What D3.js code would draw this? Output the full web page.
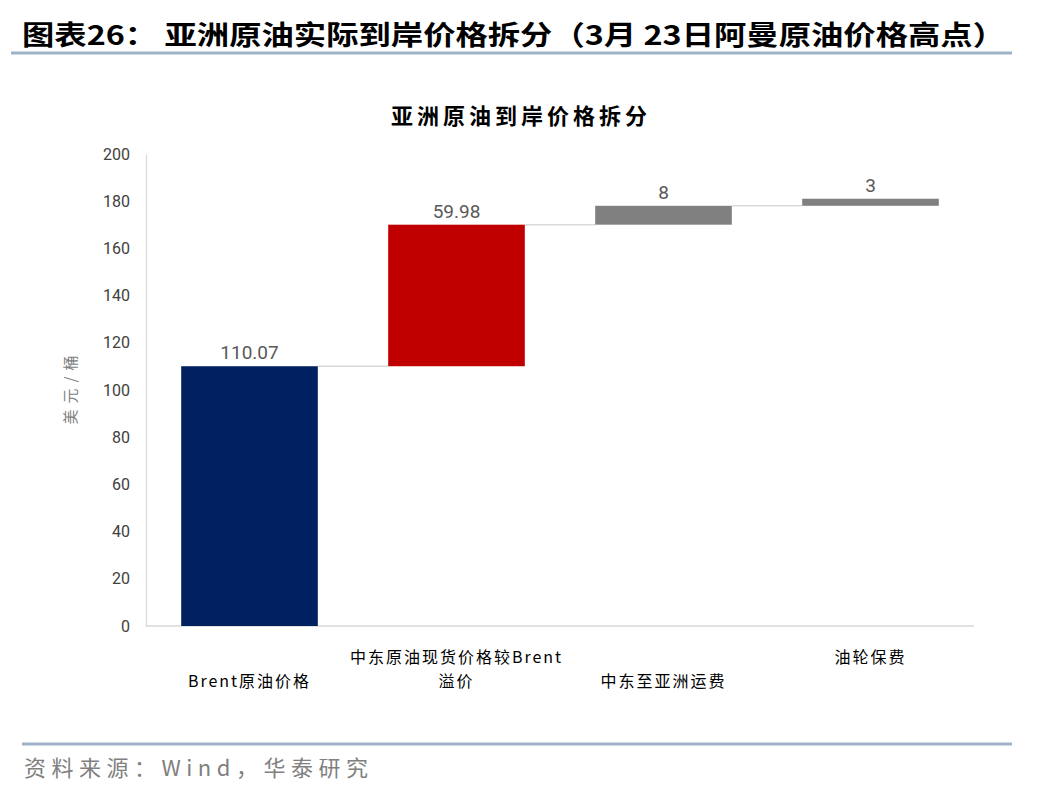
<!DOCTYPE html>
<html>
<head>
  <meta charset="utf-8">
  <script src="https://d3js.org/d3.v7.min.js"></script>
  <style>
    body { margin: 0; background: #fff; }
    svg { display: block; font-family: "Noto Sans CJK SC", "Noto Sans", sans-serif; }
    .axis path, .axis line { fill: none; }
  </style>
</head>
<body>
  <div id="chart"></div>
  <script>
    var w = 1048;
    var h = 792;

    // data
    var categories = ["Brent原油价格", "中东原油现货价格较Brent溢价", "中东至亚洲运费", "油轮保费"];
    var labelLines = [["Brent原油价格"], ["中东原油现货价格较Brent", "溢价"], ["中东至亚洲运费"], ["油轮保费"]];
    var values = [110.07, 59.98, 8, 3];
    var valueLabels = ["110.07", "59.98", "8", "3"];
    var barColors = ["#002060", "#C00000", "#808080", "#808080"];
    var yTicks = [0, 20, 40, 60, 80, 100, 120, 140, 160, 180, 200];

    // waterfall starts
    var starts = [];
    var acc = 0;
    values.forEach(function(v) { starts.push(acc); acc += v; });

    var plotLeft = 146, plotRight = 974, plotTop = 154, plotBottom = 626;

    var svg = d3.select("#chart").append("svg")
      .attr("width", w)
      .attr("height", h);

    // page header
    svg.append("text")
      .attr("x", 22)
      .attr("y", 45)
      .attr("font-size", 27)
      .attr("font-weight", "bold")
      .attr("fill", "#000")
      .attr("textLength", 983)
      .attr("lengthAdjust", "spacingAndGlyphs")
      .text("图表26：  亚洲原油实际到岸价格拆分（3月 23日阿曼原油价格高点）");

    svg.append("line")
      .attr("x1", 11).attr("x2", 1012)
      .attr("y1", 53).attr("y2", 53)
      .attr("stroke", "#9FB3C8")
      .attr("stroke-width", 3);

    // chart title
    svg.append("text")
      .attr("x", 521)
      .attr("y", 124)
      .attr("text-anchor", "middle")
      .attr("font-size", 22)
      .attr("font-weight", "bold")
      .attr("fill", "#000")
      .attr("letter-spacing", 4)
      .text("亚洲原油到岸价格拆分");

    var xScale = d3.scaleBand().domain(categories).range([plotLeft, plotRight]).paddingInner(0.34).paddingOuter(0.17);
    var yScale = d3.scaleLinear().domain([0, 200]).range([plotBottom, plotTop]);

    // y axis
    var yAxisGroup = svg.append("g")
      .attr("class", "axis")
      .attr("transform", "translate(" + plotLeft + ",0)")
      .call(d3.axisLeft(yScale).tickValues(yTicks).tickSize(0).tickPadding(16));
    yAxisGroup.select(".domain").attr("stroke", "#D9D9D9").attr("stroke-width", 1.2);
    yAxisGroup.selectAll("text")
      .attr("font-size", 16)
      .attr("fill", "#404040")
      .attr("font-family", "Roboto, 'Noto Sans', sans-serif");

    // baseline
    svg.append("line")
      .attr("x1", plotLeft).attr("x2", plotRight)
      .attr("y1", yScale(0)).attr("y2", yScale(0))
      .attr("stroke", "#D9D9D9")
      .attr("stroke-width", 1.5);

    // y axis title
    svg.append("text")
      .attr("transform", "translate(76," + (yScale(100) - 3) + ") rotate(-90)")
      .attr("text-anchor", "middle")
      .attr("font-size", 15)
      .attr("fill", "#808080")
      .attr("letter-spacing", 6)
      .text("美元/桶");

    // connector lines
    svg.selectAll(".connector")
      .data(values.slice(0, -1))
      .enter().append("line")
      .attr("class", "connector")
      .attr("x1", function(d, i) { return xScale(categories[i]) + xScale.bandwidth(); })
      .attr("x2", function(d, i) { return xScale(categories[i + 1]); })
      .attr("y1", function(d, i) { return yScale(starts[i] + d); })
      .attr("y2", function(d, i) { return yScale(starts[i] + d); })
      .attr("stroke", "#D9D9D9")
      .attr("stroke-width", 1.5);

    // bars
    svg.selectAll(".bar")
      .data(values)
      .enter().append("rect")
      .attr("class", "bar")
      .attr("x", function(d, i) { return xScale(categories[i]); })
      .attr("y", function(d, i) { return yScale(starts[i] + d); })
      .attr("width", xScale.bandwidth())
      .attr("height", function(d, i) { return yScale(starts[i]) - yScale(starts[i] + d); })
      .attr("fill", function(d, i) { return barColors[i]; });

    // value labels
    svg.selectAll(".val")
      .data(values)
      .enter().append("text")
      .attr("class", "val")
      .attr("x", function(d, i) { return xScale(categories[i]) + xScale.bandwidth() / 2; })
      .attr("y", function(d, i) { return yScale(starts[i] + d) - 7; })
      .attr("text-anchor", "middle")
      .attr("font-size", 19)
      .attr("fill", "#595959")
      .attr("font-family", "Roboto, 'Noto Sans', sans-serif")
      .text(function(d, i) { return valueLabels[i]; });

    // category labels (staggered as in the original)
    var catGroups = svg.selectAll(".cat")
      .data(labelLines)
      .enter().append("text")
      .attr("class", "cat")
      .attr("text-anchor", "middle")
      .attr("font-size", 16)
      .attr("letter-spacing", 2)
      .attr("fill", "#000");

    catGroups.each(function(lines, i) {
      var x = xScale(categories[i]) + xScale.bandwidth() / 2;
      var y0 = (i % 2 === 1) ? 663 : 687;
      d3.select(this).selectAll("tspan")
        .data(lines)
        .enter().append("tspan")
        .attr("x", x)
        .attr("y", function(d, j) { return y0 + j * 24; })
        .text(function(d) { return d; });
    });

    // footer
    svg.append("line")
      .attr("x1", 22).attr("x2", 1012)
      .attr("y1", 744).attr("y2", 744)
      .attr("stroke", "#9FB3C8")
      .attr("stroke-width", 3);

    svg.append("text")
      .attr("x", 24)
      .attr("y", 776)
      .attr("font-size", 22)
      .attr("fill", "#808080")
      .attr("letter-spacing", 5.5)
      .text("资料来源：Wind，华泰研究");
  </script>
</body>
</html>
